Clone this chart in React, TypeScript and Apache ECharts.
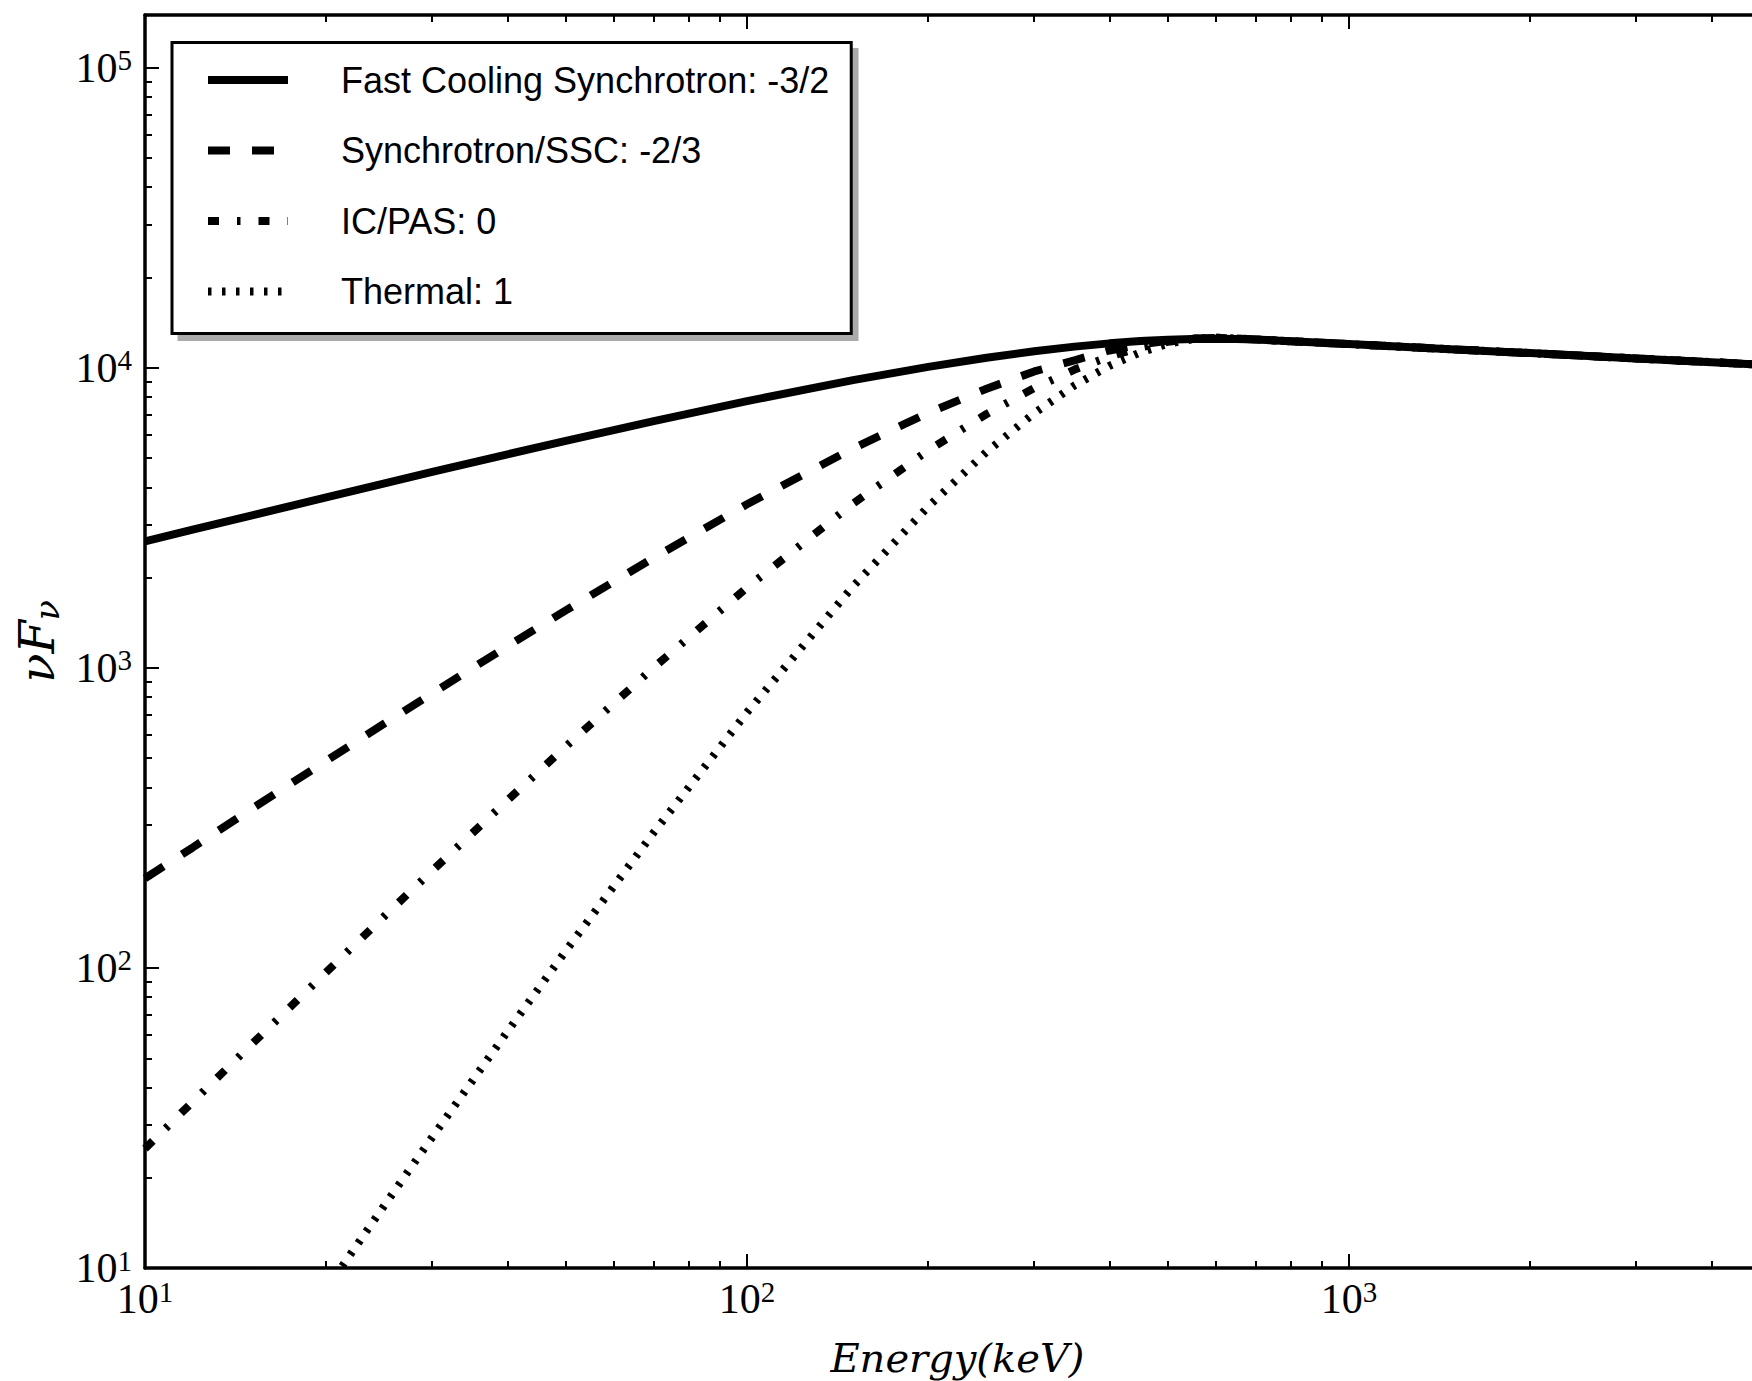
import React, { useEffect, useRef } from "react";
import * as echarts from "echarts";

// ---- data ----
const energies = [10, 12, 15, 20, 25, 30, 40, 50, 70, 100, 150, 200, 250, 300, 350, 400, 450, 500, 550, 600, 650, 700, 800, 1000, 1500, 2000, 3000, 4000, 5000];
const fastCooling = [2640, 2890, 3220, 3700, 4120, 4500, 5150, 5710, 6650, 7750, 9100, 10080, 10810, 11360, 11770, 12070, 12280, 12410, 12490, 12510, 12490, 12430, 12270, 12000, 11520, 11200, 10750, 10450, 10210];
const synchSSC = [199, 252, 338, 490, 653, 823, 1181, 1555, 2330, 3510, 5390, 7080, 8520, 9730, 10600, 11430, 11970, 12320, 12520, 12580, 12530, 12440, 12270, 12000, 11520, 11200, 10750, 10450, 10210];
const icPAS = [25.0, 35.8, 55.4, 96.8, 149, 211, 362, 547, 1003, 1853, 3530, 5310, 7020, 8560, 9870, 10910, 11690, 12210, 12510, 12600, 12530, 12440, 12270, 12000, 11520, 11200, 10750, 10450, 10210];
const thermal = [null, null, null, 8.5, 16.2, 27.3, 61.4, 114, 283, 711, 1870, 3450, 5250, 7060, 8740, 10160, 11260, 12030, 12470, 12610, 12530, 12440, 12270, 12000, 11520, 11200, 10750, 10450, 10210];

const seriesNames = ["Fast Cooling Synchrotron: -3/2", "Synchrotron/SSC: -2/3", "IC/PAS: 0", "Thermal: 1"];

const xRange = [10, 5000];
const yRange = [10, 150000];
const xMajorTicks = [10, 100, 1000];
const xMinorTicks = [20, 30, 40, 50, 60, 70, 80, 90, 200, 300, 400, 500, 600, 700, 800, 900, 2000, 3000, 4000];
const yMajorTicks = [10, 100, 1000, 10000, 100000];
const yMinorTicks = [20, 30, 40, 50, 60, 70, 80, 90, 200, 300, 400, 500, 600, 700, 800, 900, 2000, 3000, 4000, 5000, 6000, 7000, 8000, 9000, 20000, 30000, 40000, 50000, 60000, 70000, 80000, 90000];

function pairs(vals: (number | null)[]) {
  return energies
    .map((e, i) => [e, vals[i]])
    .filter((p) => p[1] != null);
}

const supLabel = (v: number) => `{b|10}{s|${Math.round(Math.log10(v))}}`;

const labelRich = {
  b: { fontFamily: "Liberation Serif", fontSize: 42, lineHeight: 44, color: "#000" },
  s: { fontFamily: "Liberation Serif", fontSize: 29, lineHeight: 26, verticalAlign: "top", color: "#000" },
};

const black = "#000";
const tickMajor = 14;
const tickMinor = 7;
const spineW = 3.5;
const lineW = 8;

function makeAxis(pos: string, range: number[], ticks: number[], len: number, line: boolean, labels: boolean) {
  return {
    type: "log",
    logBase: 10,
    position: pos,
    min: range[0],
    max: range[1],
    gridIndex: 0,
    axisLine: { show: line, onZero: false, lineStyle: { color: black, width: spineW } },
    axisTick: { show: true, inside: true, length: len, customValues: ticks, lineStyle: { color: black, width: 2 } },
    minorTick: { show: false },
    splitLine: { show: false },
    axisLabel: labels
      ? { show: true, customValues: ticks, formatter: supLabel, rich: labelRich, margin: 9, showMinLabel: true, showMaxLabel: true }
      : { show: false },
  } as any;
}

export default function App() {
  const ref = useRef<HTMLDivElement>(null);
  useEffect(() => {
    if (!ref.current) return;
    const chart = echarts.init(ref.current, null, { renderer: "svg" });

    const xMain = makeAxis("bottom", xRange, xMajorTicks, tickMajor, true, true);
    xMain.name = "Energy(keV)";
    xMain.nameLocation = "middle";
    xMain.nameGap = 66;
    xMain.nameMoveOverlap = false;
    xMain.nameTextStyle = { fontFamily: "DejaVu Serif", fontStyle: "italic", fontSize: 40, lineHeight: 48, color: black };

    const yMain = makeAxis("left", yRange, yMajorTicks, tickMajor, true, true);
    yMain.axisLabel.margin = 13;
    yMain.name = "{i|νF}{s|ν}";
    yMain.nameLocation = "middle";
    yMain.nameRotate = 90;
    yMain.nameGap = 81;
    yMain.nameMoveOverlap = false;
    yMain.nameTextStyle = {
      rich: {
        i: { fontFamily: "DejaVu Serif", fontStyle: "italic", fontSize: 48, lineHeight: 54, color: black },
        s: { fontFamily: "DejaVu Serif", fontStyle: "italic", fontSize: 33, lineHeight: 34, verticalAlign: "bottom", color: black },
      },
    };

    const styles = [
      { type: "solid" },
      { type: [22, 22] },
      { type: [11, 18, 3.5, 18] },
      { type: [3.5, 10.5] },
    ];
    const values = [fastCooling, synchSSC, icPAS, thermal];

    chart.setOption({
      animation: false,
      backgroundColor: "#fff",
      grid: { left: 145, top: 15, right: 30.2, bottom: 113, containLabel: false, outerBoundsMode: "none" },
      xAxis: [
        xMain,
        makeAxis("bottom", xRange, xMinorTicks, tickMinor, false, false),
        makeAxis("top", xRange, xMajorTicks, tickMajor, true, false),
        makeAxis("top", xRange, xMinorTicks, tickMinor, false, false),
      ],
      yAxis: [yMain, makeAxis("left", yRange, yMinorTicks, tickMinor, false, false)],
      legend: {
        show: true,
        orient: "vertical",
        left: 172,
        top: 42.5,
        selectedMode: false,
        data: seriesNames,
        itemWidth: 80,
        itemHeight: 14,
        itemGap: 12.5,
        padding: [8.5, 22, 13, 32],
        backgroundColor: "#fff",
        borderColor: black,
        borderWidth: 3,
        borderRadius: 0,
        textStyle: { fontFamily: "Liberation Sans", fontSize: 36, lineHeight: 40, color: black, padding: [18, 0, 0, 48] },
        itemStyle: { opacity: 0 },
        lineStyle: { width: lineW, type: "inherit", color: "inherit" },
        z: 10,
      },
      graphic: [
        { type: "rect", x: 177.5, y: 48, shape: { width: 681, height: 293 }, style: { fill: "#aaaaaa" }, z: 0, silent: true },
      ],
      series: values.map((vals, i) => ({
        name: seriesNames[i],
        type: "line",
        xAxisIndex: 0,
        yAxisIndex: 0,
        data: pairs(vals),
        symbol: "none",
        showSymbol: false,
        clip: true,
        silent: true,
        lineStyle: { color: black, width: lineW, type: styles[i].type },
        itemStyle: { color: black },
        z: 2 + i,
      })),
    } as any);

    return () => chart.dispose();
  }, []);

  return (
    <div style={{ position: "fixed", left: 0, top: 0, width: 1752, height: 1381, overflow: "hidden", background: "#fff" }}>
      <div ref={ref} style={{ width: 1800, height: 1381 }} />
    </div>
  );
}
